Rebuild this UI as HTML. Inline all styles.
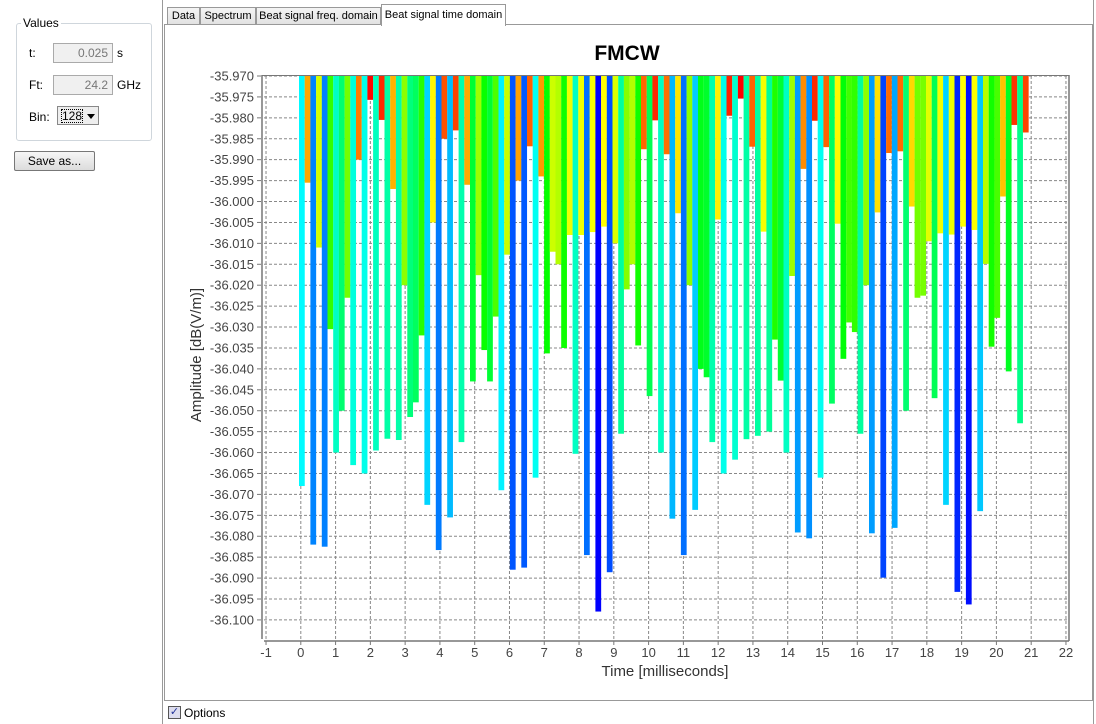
<!DOCTYPE html>
<html><head><meta charset="utf-8"><style>
body{margin:0;width:1096px;height:724px;background:#fff;font-family:"Liberation Sans",sans-serif;font-size:12px;color:#000;position:relative;overflow:hidden}
.abs{position:absolute}
.tab{position:absolute;top:7px;height:17px;border:1px solid #999;border-bottom:none;background:linear-gradient(#f4f4f4,#e2e2e2);font-size:11px;line-height:17px;text-align:center;box-sizing:border-box;white-space:nowrap;overflow:hidden}
.inp{position:absolute;left:53px;width:60px;height:20px;border:1px solid #aaa;background:#f0f0f0;color:#777;text-align:right;box-sizing:border-box;padding-right:4px;line-height:18px;font-size:12px}
</style></head><body>
<div class="abs" style="left:0;top:0;width:162px;height:724px;border-right:1px solid #999"></div>
<div class="abs" style="left:16px;top:23px;width:134px;height:116px;border:1px solid #cfd6dc;border-radius:3px"></div>
<div class="abs" style="left:21px;top:16px;background:#fff;padding:0 2px;font-size:12px">Values</div>
<div class="abs" style="left:29px;top:46px">t:</div>
<div class="inp" style="top:43px">0.025</div>
<div class="abs" style="left:117px;top:46px">s</div>
<div class="abs" style="left:29px;top:78px">Ft:</div>
<div class="inp" style="top:75px">24.2</div>
<div class="abs" style="left:117px;top:78px">GHz</div>
<div class="abs" style="left:29px;top:110px">Bin:</div>
<div class="abs" style="left:57px;top:106px;width:42px;height:19px;border:1px solid #888;background:#eee;box-sizing:border-box"><span style="position:absolute;left:3px;top:2px;border:1px dotted #000;line-height:12px">128</span><span style="position:absolute;left:29px;top:7px;border-left:4px solid transparent;border-right:4px solid transparent;border-top:5px solid #000"></span></div>
<div class="abs" style="left:14px;top:151px;width:81px;height:20px;border:1px solid #777;border-radius:2px;background:linear-gradient(#f6f6f6,#dcdcdc);box-sizing:border-box;text-align:center;line-height:18px">Save as...</div>
<div class="abs" style="left:164px;top:24px;width:927px;height:675px;border:1px solid #999"></div>
<div class="tab" style="left:167px;width:33px">Data</div>
<div class="tab" style="left:200px;width:56px">Spectrum</div>
<div class="tab" style="left:256px;width:125px">Beat signal freq. domain</div>
<div class="tab" style="left:381px;top:4px;height:22px;width:125px;background:#fff;line-height:20px">Beat signal time domain</div>
<div class="abs" style="left:1093px;top:0;width:1px;height:724px;background:#999"></div>
<div class="abs" style="left:168px;top:706px;width:11px;height:11px;border:1px solid #555;background:#dde;font-size:11px;line-height:11px;text-align:center;color:#239">&#10003;</div>
<div class="abs" style="left:184px;top:706px">Options</div>
<svg class="abs" style="left:0;top:0" width="1096" height="724" id="s"></svg>
<script>
var v=[-36.068,-35.9955,-36.082,-36.011,-36.0825,-36.0305,-36.060,-36.050,-36.023,-36.063,-35.990,-36.065,-35.9757,-36.0595,-35.9805,-36.0567,-35.997,-36.057,-36.020,-36.0515,-36.048,
-36.032,-36.0725,-36.005,-36.0833,-35.985,-36.0755,-35.983,-36.0575,-35.996,-36.043,-36.0176,-36.0355,-36.043,-36.0275,-36.069,-36.0127,-36.088,-35.995,-36.0875,-35.9868,-36.066,-35.994,
-36.0363,-36.012,-36.015,-36.035,-36.008,-36.0603,-36.008,-36.0845,-36.0073,-36.098,-36.006,-36.0886,-36.010,-36.0555,-36.021,-36.015,-36.0344,-35.9875,-36.0465,-35.9806,-36.060,
-35.9887,-36.0758,-36.0028,-36.0845,-36.020,-36.0737,-36.040,-36.042,-36.0575,-36.0043,-36.065,-35.9795,-36.0617,-35.9754,-36.0568,-35.9869,-36.056,-36.0072,-36.055,-36.033,-36.0428,
-36.060,-36.0178,-36.0791,-35.9922,-36.0805,-35.9807,-36.066,-35.987,-36.0483,-36.0053,-36.0376,-36.0289,-36.0312,-36.0555,-36.020,-36.0793,-36.0026,-36.0899,-35.9884,-36.078,-35.988,
-36.050,-36.0012,-36.023,-36.0225,-36.0095,-36.047,-36.0076,-36.0725,-36.0079,-36.0933,-36.006,-36.0963,-36.0068,-36.074,-36.0149,-36.0347,-36.0278,-35.9988,-36.0406,-35.9817,-36.053,-35.9835];
var h='';
function Y(val){return 76+(-35.970-val)/0.005*20.92;}
function X(t){return 300.8+t*34.78;}
for(var k=0;k<=26;k++){var y=76+k*20.92;h+='<line x1="264" x2="1069" y1="'+y+'" y2="'+y+'" stroke="#888" stroke-dasharray="3,2" stroke-width="1"/>';
h+='<line x1="257" x2="261" y1="'+y+'" y2="'+y+'" stroke="#777"/>';
h+='<text x="254" y="'+(y+4.5)+'" text-anchor="end" font-size="13" fill="#444" font-family="Liberation Sans">'+(-35.970-k*0.005).toFixed(3)+'</text>';}
for(var t=-1;t<=22;t++){var x=X(t);h+='<line x1="'+x+'" x2="'+x+'" y1="76" y2="639" stroke="#888" stroke-dasharray="3,2"/>';
h+='<line x1="'+x+'" x2="'+x+'" y1="641" y2="645" stroke="#777"/>';
h+='<text x="'+x+'" y="657" text-anchor="middle" font-size="13" fill="#444" font-family="Liberation Sans">'+t+'</text>';}
for(var i=0;i<v.length;i++){var hue=Math.max(0,Math.min(240,(-35.9754-v[i])*1958));var x0=299+i*5.7;
h+='<rect x="'+x0.toFixed(2)+'" y="75" width="5.75" height="'+(Y(v[i])-75).toFixed(2)+'" fill="hsl('+hue.toFixed(0)+',100%,50%)"/>';}
h+='<line x1="262" x2="262" y1="75" y2="639" stroke="#777" stroke-width="1.5"/>';
h+='<line x1="264" x2="1069" y1="641" y2="641" stroke="#777" stroke-width="1.5"/>';
h+='<line x1="262" x2="1069" y1="75.5" y2="75.5" stroke="#777" stroke-width="1"/>';
h+='<line x1="1069" x2="1069" y1="75" y2="641" stroke="#777" stroke-width="1.5"/>';
h+='<text x="627" y="60" text-anchor="middle" font-size="21" font-weight="bold" font-family="Liberation Sans">FMCW</text>';
h+='<text x="665" y="676" text-anchor="middle" font-size="15" fill="#333" font-family="Liberation Sans">Time [milliseconds]</text>';
h+='<text transform="translate(201,355) rotate(-90)" text-anchor="middle" font-size="15" fill="#333" font-family="Liberation Sans">Amplitude [dB(V/m)]</text>';
document.getElementById('s').innerHTML=h;
</script>
</body></html>
